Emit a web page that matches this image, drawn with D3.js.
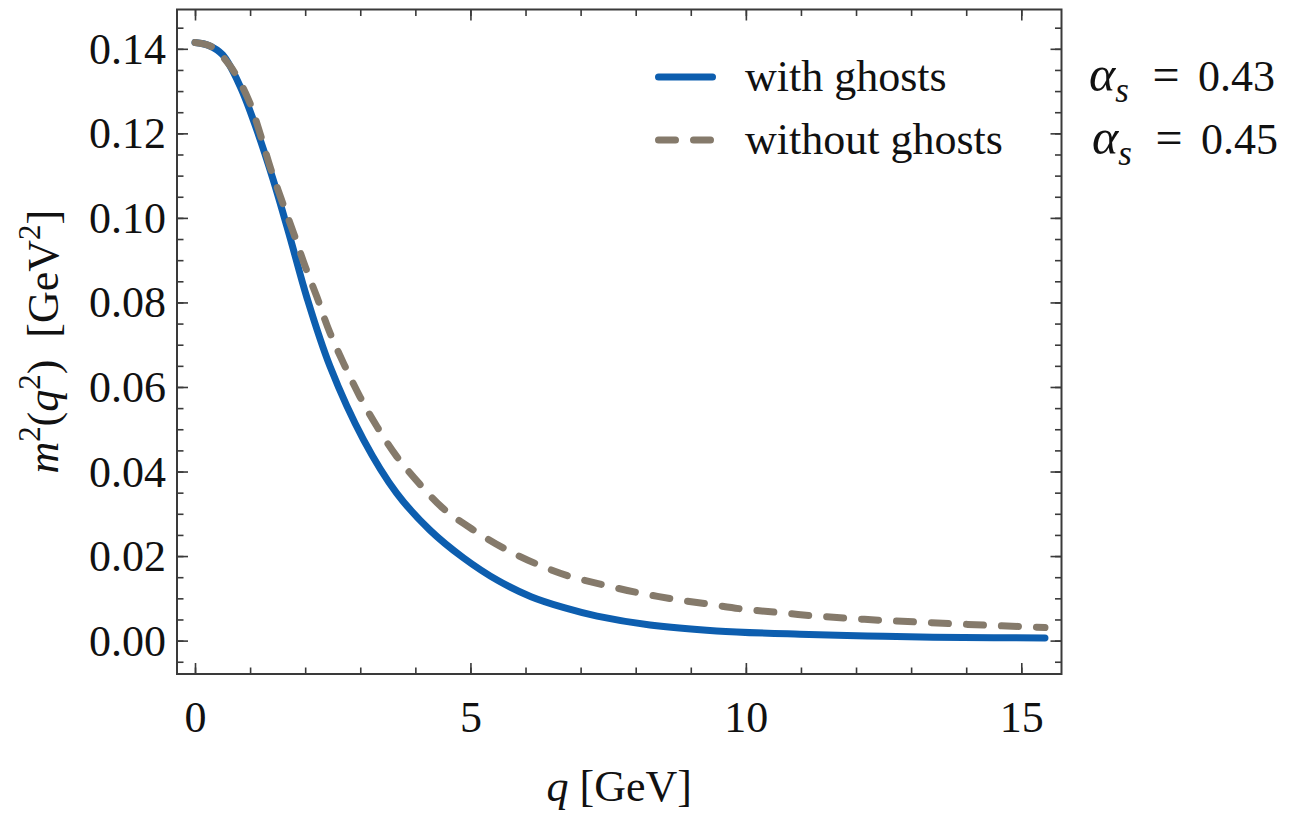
<!DOCTYPE html>
<html>
<head>
<meta charset="utf-8">
<script src="https://cdn.jsdelivr.net/npm/d3@7"></script>
<style>
  body { margin: 0; background: #fff; }
  svg text { font-family: "Liberation Serif", "Times New Roman", serif; fill: #111; white-space: pre; }
</style>
</head>
<body>
<svg id="chart" width="1292" height="815"></svg>
<script>
// Gluon mass function m^2(q^2) versus momentum q
const qWith = [0, 0.25, 0.5, 0.82, 1.12, 1.42, 1.72, 2.03, 2.45, 3.06, 3.66, 4.26, 4.87, 5.5, 6.1, 6.7, 7.3, 8.26, 9.47, 10.98, 12.2, 13.4, 14.5, 15.43];
const m2With = [0.1415, 0.1408, 0.1386, 0.1311, 0.1209, 0.109, 0.0956, 0.0812, 0.0649, 0.0475, 0.0349, 0.0262, 0.0196, 0.0142, 0.0104, 0.0078, 0.0058, 0.0037, 0.0023, 0.0015, 0.0011, 0.0008, 0.0007, 0.0006];

const qWithout = [0, 0.3, 0.64, 0.97, 1.18, 1.36, 1.57, 1.79, 2.0, 2.21, 2.45, 2.99, 3.3, 3.66, 4.08, 4.51, 5.05, 5.6, 6.17, 6.78, 7.41, 8.02, 8.65, 9.28, 9.92, 10.55, 11.19, 11.83, 12.46, 13.1, 13.76, 14.43, 15.06, 15.43];
const m2Without = [0.1415, 0.1405, 0.1359, 0.128, 0.120, 0.1122, 0.1043, 0.0964, 0.0885, 0.0814, 0.0728, 0.0578, 0.0507, 0.0436, 0.0370, 0.0312, 0.0262, 0.0219, 0.0183, 0.0153, 0.0132, 0.0114, 0.0099, 0.0087, 0.0075, 0.0067, 0.0059, 0.0053, 0.0048, 0.0044, 0.0040, 0.0036, 0.0033, 0.0031];

const seriesNames = ["with ghosts", "without ghosts"];
const alphaValues = ["0.43", "0.45"];

const xMajorTicks = [0, 5, 10, 15];
const xMinorTicks = d3.range(0, 16, 1);
const yMajorTicks = [0, 0.02, 0.04, 0.06, 0.08, 0.10, 0.12, 0.14];
const yMinorTicks = d3.range(-0.005, 0.1451, 0.005);

const styles = [
  { color: "#0d5eaf", dash: null },
  { color: "#857a6b", dash: "17 18" }
];

const svg = d3.select("#chart");
const plot = { left: 177, top: 9.5, right: 1061.5, bottom: 674 };
const FS = 44;

const x = d3.scaleLinear().domain([-0.327, 15.73]).range([plot.left, plot.right]);
const y = d3.scaleLinear().domain([-0.0079, 0.1493]).range([plot.bottom, plot.top]);

const axisColor = "#3a3a3a";

function styleAxis(g) {
  g.select(".domain").remove();
  g.selectAll(".tick line").attr("stroke", axisColor).attr("stroke-width", 1.6);
}

// minor ticks (all four sides, pointing inward)
svg.append("g").attr("transform", `translate(0,${plot.bottom})`)
  .call(d3.axisBottom(x).tickValues(xMinorTicks).tickSize(-6.5).tickFormat(""))
  .call(styleAxis);
svg.append("g").attr("transform", `translate(0,${plot.top})`)
  .call(d3.axisTop(x).tickValues(xMinorTicks).tickSize(-6.5).tickFormat(""))
  .call(styleAxis);
svg.append("g").attr("transform", `translate(${plot.left},0)`)
  .call(d3.axisLeft(y).tickValues(yMinorTicks).tickSize(-6.5).tickFormat(""))
  .call(styleAxis);
svg.append("g").attr("transform", `translate(${plot.right},0)`)
  .call(d3.axisRight(y).tickValues(yMinorTicks).tickSize(-6.5).tickFormat(""))
  .call(styleAxis);

// major ticks with labels
const xAxis = svg.append("g").attr("transform", `translate(0,${plot.bottom})`)
  .call(d3.axisBottom(x).tickValues(xMajorTicks).tickSize(-11).tickFormat(d3.format("d")))
  .call(styleAxis);
xAxis.selectAll("text").attr("y", 58).attr("dy", null)
  .style("font-size", FS + "px").attr("fill", "#111");

svg.append("g").attr("transform", `translate(0,${plot.top})`)
  .call(d3.axisTop(x).tickValues(xMajorTicks).tickSize(-11).tickFormat(""))
  .call(styleAxis);

const yAxis = svg.append("g").attr("transform", `translate(${plot.left},0)`)
  .call(d3.axisLeft(y).tickValues(yMajorTicks).tickSize(-11).tickFormat(d3.format(".2f")))
  .call(styleAxis);
yAxis.selectAll("text").attr("x", -11).attr("dy", "0.33em")
  .style("font-size", FS + "px").attr("fill", "#111");

svg.append("g").attr("transform", `translate(${plot.right},0)`)
  .call(d3.axisRight(y).tickValues(yMajorTicks).tickSize(-11).tickFormat(""))
  .call(styleAxis);

// frame
svg.append("rect")
  .attr("x", plot.left).attr("y", plot.top)
  .attr("width", plot.right - plot.left).attr("height", plot.bottom - plot.top)
  .attr("fill", "none").attr("stroke", axisColor).attr("stroke-width", 2);

// curves
const line = d3.line().x(d => x(d[0])).y(d => y(d[1])).curve(d3.curveCatmullRom.alpha(0.5));
const series = [d3.zip(qWith, m2With), d3.zip(qWithout, m2Without)];
series.forEach((pts, i) => {
  svg.append("path")
    .datum(pts)
    .attr("d", line)
    .attr("fill", "none")
    .attr("stroke", styles[i].color)
    .attr("stroke-width", 7)
    .attr("stroke-linecap", "round")
    .attr("stroke-linejoin", "round")
    .attr("stroke-dasharray", styles[i].dash);
});

// rich text helper: runs of {t, it, sup, sub}
function richText(sel, runs, size) {
  let shift = 0;
  runs.forEach(r => {
    const ts = sel.append("tspan").text(r.t);
    let target = 0;
    if (r.sup) target = -0.42 * size;
    if (r.sub) target = 0.22 * size;
    if (target !== shift) { ts.attr("dy", target - shift); shift = target; }
    if (r.sup || r.sub) ts.style("font-size", (size * 0.7) + "px");
    if (r.it) ts.style("font-style", "italic");
  });
}

// legend
const legendRows = [77, 140];
seriesNames.forEach((name, i) => {
  const yy = legendRows[i];
  svg.append("line")
    .attr("x1", 658.5).attr("x2", i === 0 ? 712.5 : 713)
    .attr("y1", yy).attr("y2", yy)
    .attr("stroke", styles[i].color).attr("stroke-width", 7)
    .attr("stroke-linecap", "round")
    .attr("stroke-dasharray", styles[i].dash);
  svg.append("text").attr("x", 745).attr("y", yy + 14)
    .style("font-size", FS + "px").text(name);
});

// coupling annotations
alphaValues.forEach((v, i) => {
  const yy = legendRows[i] + 14;
  const off = i === 0 ? 0 : 3;
  const t = svg.append("text").attr("x", 1089 + off).attr("y", yy).style("font-size", "50px");
  richText(t, [{ t: "α", it: true }, { t: "s", it: true, sub: true }], 50);
  svg.append("text").attr("x", 1166 + off).attr("y", yy).attr("text-anchor", "middle")
    .style("font-size", "48px").text("=");
  svg.append("text").attr("x", 1275 + off).attr("y", yy).attr("text-anchor", "end")
    .style("font-size", FS + "px").text(v);
});

// axis titles
const xt = svg.append("text").attr("x", (plot.left + plot.right) / 2).attr("y", 801)
  .attr("text-anchor", "middle").style("font-size", FS + "px");
richText(xt, [{ t: "q", it: true }, { t: " [GeV]" }], FS);

const yt = svg.append("text")
  .attr("transform", `translate(58,${(plot.top + plot.bottom) / 2}) rotate(-90)`)
  .attr("text-anchor", "middle").style("font-size", FS + "px");
richText(yt, [
  { t: "m", it: true }, { t: "2", sup: true }, { t: "(" }, { t: "q", it: true },
  { t: "2", sup: true }, { t: ")  [GeV" }, { t: "2", sup: true }, { t: "]" }
], FS);
</script>
</body>
</html>
